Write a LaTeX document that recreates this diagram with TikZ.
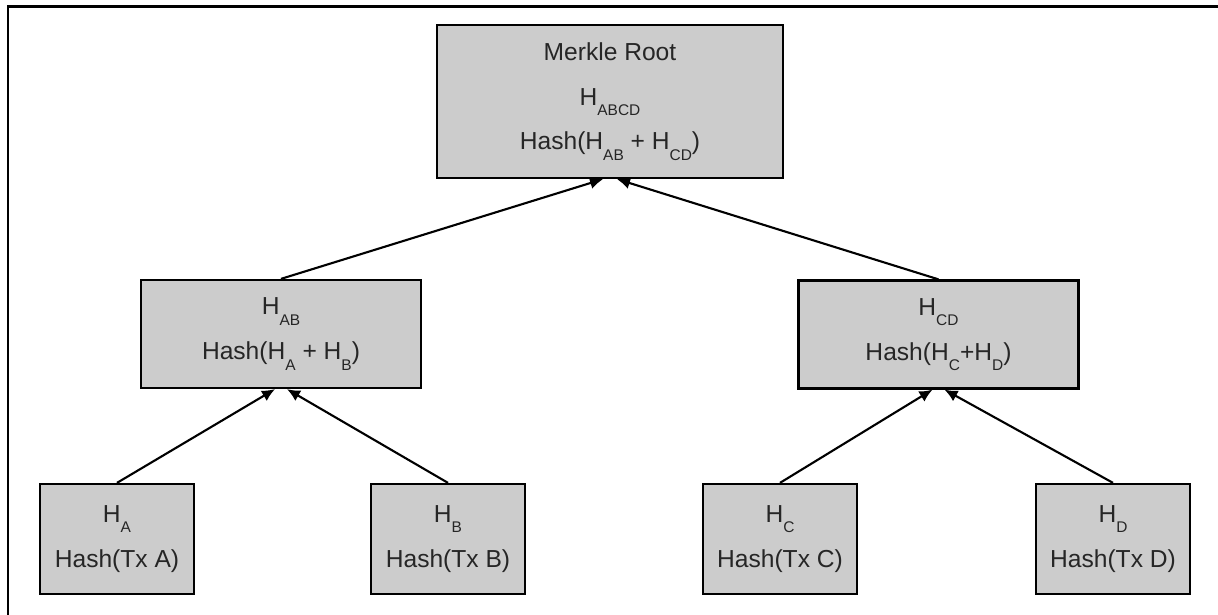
\documentclass[tikz,border=0pt]{standalone}
\usepackage{fontspec}
\setmainfont{Liberation Sans}
\usetikzlibrary{arrows.meta,positioning}
\newcommand{\hsb}[1]{\raisebox{-0.42em}{\fontsize{8.8}{8.8}\selectfont #1}}

\begin{document}
\begin{tikzpicture}[
  x=0.02cm, y=-0.02cm,
  hbox/.style={draw, line width=1.3pt, fill=black!20, align=center,
               font=\fontsize{14}{25.5}\selectfont, text=black!85,
               inner sep=0pt},
  leaf/.style={hbox, minimum width=3.08cm, minimum height=2.2cm},
  mid/.style={hbox, minimum width=5.6cm, minimum height=2.16cm},
  arrow/.style={-{Latex[length=2.6mm, width=2.4mm]}, line width=1.2pt}
]
\useasboundingbox (0,0) rectangle (1218,615);
\draw[line width=1.3pt] (8,615) -- (8,6.5) -- (1218,6.5);
\node[hbox, minimum width=6.92cm, minimum height=3.06cm] (root) at (610,101.5)
  {Merkle Root\\H\hsb{ABCD}\\Hash(H\hsb{AB} + H\hsb{CD})};
\node[mid] (hab) at (281,334) {H\hsb{AB}\\Hash(H\hsb{A} + H\hsb{B})};
\node[mid] (hcd) at (938.5,334.5) {H\hsb{CD}\\Hash(H\hsb{C}+H\hsb{D})};
\node[leaf] (ha) at (117,539) {H\hsb{A}\\Hash(Tx A)};
\node[leaf] (hb) at (448,539) {H\hsb{B}\\Hash(Tx B)};
\node[leaf] (hc) at (780,539) {H\hsb{C}\\Hash(Tx C)};
\node[leaf] (hd) at (1113,539) {H\hsb{D}\\Hash(Tx D)};
\draw[arrow] (hab.north) -- ([xshift=-1.4mm]root.south);
\draw[arrow] (hcd.north) -- ([xshift=1.4mm]root.south);
\draw[arrow] (ha.north) -- ([xshift=-1.2mm]hab.south);
\draw[arrow] (hb.north) -- ([xshift=1.2mm]hab.south);
\draw[arrow] (hc.north) -- ([xshift=-1.2mm]hcd.south);
\draw[arrow] (hd.north) -- ([xshift=1.2mm]hcd.south);
\end{tikzpicture}
\end{document}
